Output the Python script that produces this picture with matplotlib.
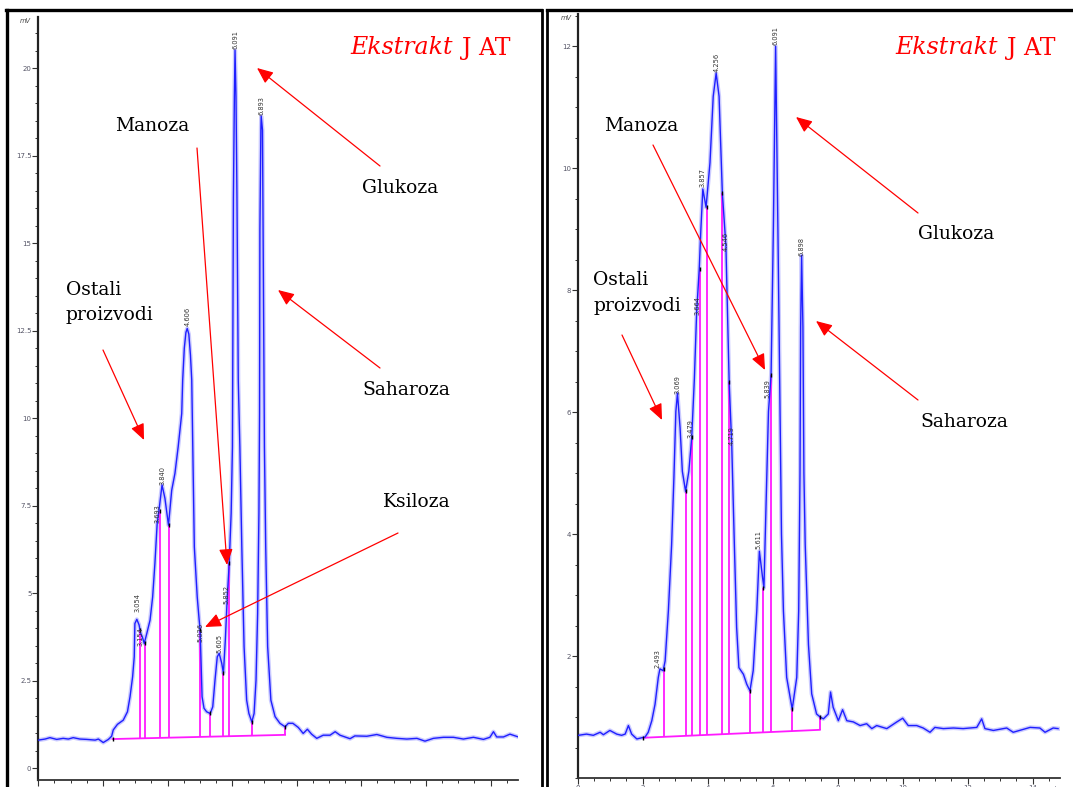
import matplotlib
matplotlib.use('Agg')
import matplotlib.pyplot as plt
import numpy as np
from matplotlib.patches import FancyArrowPatch
from matplotlib.lines import Line2D

W, H = 1073, 787

# ---------------- LEFT chromatogram (time [min], signal [mV]) ----------------
left_t = [0.00, 0.21, 0.36, 0.57, 0.77, 0.93, 1.08, 1.29, 1.50, 1.76, 1.86, 2.01, 2.17, 2.27,
          2.32, 2.45, 2.63, 2.76, 2.84, 2.92, 2.97, 2.99, 3.05, 3.12, 3.17, 3.22, 3.28, 3.36,
          3.46, 3.54, 3.61, 3.68, 3.75, 3.83, 3.92, 4.03, 4.13, 4.23, 4.33, 4.44, 4.47, 4.52,
          4.57, 4.61, 4.66, 4.71, 4.75, 4.83, 4.92, 4.98, 5.01, 5.04, 5.07, 5.13, 5.21, 5.32,
          5.40, 5.47, 5.54, 5.60, 5.68, 5.73, 5.79, 5.85, 5.91, 5.97, 6.01, 6.04, 6.07, 6.09,
          6.12, 6.15, 6.19, 6.24, 6.30, 6.37, 6.45, 6.52, 6.61, 6.68, 6.74, 6.79, 6.83, 6.85,
          6.86, 6.89, 6.90, 6.94, 6.96, 6.99, 7.00, 7.04, 7.10, 7.20, 7.33, 7.48, 7.64, 7.74,
          7.88, 8.05, 8.20, 8.33, 8.46, 8.62, 8.82, 9.03, 9.19, 9.34, 9.65, 9.80, 10.17, 10.48,
          10.79, 11.10, 11.41, 11.72, 11.97, 12.23, 12.54, 12.85, 13.16, 13.47, 13.78, 13.98,
          14.09, 14.19, 14.40, 14.60, 14.86]
left_mv = [0.80, 0.83, 0.87, 0.82, 0.85, 0.83, 0.87, 0.83, 0.82, 0.80, 0.83, 0.73, 0.82, 0.91,
           1.09, 1.25, 1.37, 1.61, 2.04, 2.61, 3.18, 4.13, 4.25, 4.09, 3.85, 3.75, 3.56, 3.85,
           4.23, 4.89, 5.85, 6.99, 7.47, 8.09, 7.71, 6.94, 7.94, 8.42, 9.18, 10.13, 11.09, 12.00,
           12.45, 12.56, 12.40, 11.80, 11.09, 6.32, 4.89, 4.23, 3.94, 2.99, 2.04, 1.71, 1.61, 1.56,
           1.75, 2.51, 3.18, 3.28, 2.99, 2.71, 3.66, 4.89, 5.85, 7.28, 9.18, 16.32, 19.18, 20.51,
           19.18, 16.32, 11.09, 9.18, 6.32, 3.47, 1.94, 1.56, 1.32, 1.56, 2.51, 4.42, 7.28, 10.13,
           15.37, 18.23, 18.63, 18.23, 15.37, 11.56, 9.18, 6.32, 3.47, 1.94, 1.47, 1.28, 1.18, 1.28,
           1.28, 1.16, 0.99, 1.11, 0.97, 0.85, 0.94, 0.94, 1.04, 0.94, 0.84, 0.92, 0.91, 0.96,
           0.88, 0.85, 0.83, 0.85, 0.77, 0.85, 0.88, 0.88, 0.83, 0.88, 0.82, 0.88,
           1.04, 0.89, 0.89, 0.97, 0.89]
left_drop_t = [3.15, 3.30, 3.78, 4.04, 5.01, 5.32, 5.71, 5.91, 6.61, 7.64]
left_drop_top = [3.95, 3.56, 7.35, 6.94, 3.94, 1.56, 2.71, 5.85, 1.32, 1.18]
left_base_t = [2.30, 7.64]
left_base_mv = [0.83, 0.95]
left_labels = ['3.054', '3.154', '3.693', '3.840', '4.606', '5.026', '5.605', '5.852', '6.091', '6.893']
left_label_t = [3.06, 3.18, 3.69, 3.84, 4.61, 5.02, 5.60, 5.82, 6.09, 6.90]
left_label_mv = [4.45, 3.50, 7.00, 8.10, 12.62, 3.60, 3.30, 4.70, 20.55, 18.65]
left_yticks = [0, 2.5, 5, 7.5, 10, 12.5, 15, 17.5, 20]
left_yticklabels = ['0', '2.5', '5', '7.5', '10', '12.5', '15', '17.5', '20']

# ---------------- RIGHT chromatogram ----------------
right_t = [0.02, 0.27, 0.48, 0.69, 0.79, 0.99, 1.20, 1.35, 1.46, 1.56, 1.66, 1.82, 1.97, 2.07,
           2.17, 2.28, 2.38, 2.48, 2.53, 2.63, 2.69, 2.79, 2.89, 2.96, 3.02, 3.07, 3.15, 3.22,
           3.32, 3.42, 3.51, 3.59, 3.66, 3.74, 3.79, 3.85, 3.95, 4.07, 4.17, 4.26, 4.35, 4.45,
           4.56, 4.66, 4.74, 4.82, 4.89, 4.96, 5.10, 5.20, 5.30, 5.40, 5.51, 5.59, 5.69, 5.73,
           5.79, 5.87, 5.95, 6.02, 6.09, 6.16, 6.22, 6.27, 6.33, 6.43, 6.60, 6.74, 6.80, 6.84,
           6.86, 6.89, 6.93, 6.96, 7.00, 7.10, 7.20, 7.35, 7.46, 7.56, 7.71, 7.78, 7.86, 8.02,
           8.15, 8.28, 8.48, 8.69, 8.89, 9.05, 9.20, 9.51, 9.82, 10.00, 10.17, 10.43, 10.63,
           10.84, 10.99, 11.25, 11.56, 11.86, 12.28, 12.43, 12.53, 12.79, 13.20, 13.40, 13.92,
           14.22, 14.38, 14.63, 14.78]
right_mv = [0.70, 0.72, 0.70, 0.75, 0.71, 0.78, 0.72, 0.70, 0.72, 0.86, 0.72, 0.64, 0.66, 0.67,
            0.75, 0.94, 1.21, 1.65, 1.79, 1.76, 1.92, 2.74, 3.83, 4.92, 6.01, 6.31, 5.74, 5.03,
            4.70, 5.03, 5.60, 6.55, 7.64, 8.35, 9.00, 9.66, 9.36, 10.09, 11.18, 11.56, 11.18, 9.60,
            8.73, 6.50, 5.46, 3.83, 2.47, 1.81, 1.70, 1.54, 1.43, 1.76, 2.74, 3.72, 3.28, 3.12,
            4.37, 6.01, 6.61, 9.00, 12.00, 9.00, 6.28, 4.00, 2.74, 1.65, 1.13, 1.65, 2.74, 5.00,
            7.40, 8.57, 7.40, 5.00, 3.83, 2.19, 1.38, 1.05, 1.00, 0.97, 1.05, 1.41, 1.16, 0.94,
            1.12, 0.94, 0.92, 0.86, 0.89, 0.81, 0.86, 0.81, 0.92, 0.98, 0.86, 0.86, 0.82,
            0.75, 0.83, 0.81, 0.82, 0.81, 0.83, 0.97, 0.81, 0.78, 0.82, 0.75, 0.83,
            0.82, 0.75, 0.82, 0.81]
right_drop_t = [2.66, 3.32, 3.53, 3.75, 3.97, 4.45, 4.66, 5.30, 5.71, 5.94, 6.60, 7.45]
right_drop_top = [1.78, 4.70, 5.60, 8.35, 9.36, 9.60, 6.50, 1.43, 3.12, 6.61, 1.13, 1.00]
right_base_t = [2.02, 7.45]
right_base_mv = [0.66, 0.79]
right_labels = ['2.493', '3.069', '3.479', '3.664', '3.857', '4.256', '4.546', '4.719',
                '5.611', '5.839', '6.091', '6.898']
right_label_t = [2.47, 3.07, 3.48, 3.68, 3.84, 4.28, 4.56, 4.75, 5.57, 5.83, 6.09, 6.90]
right_label_mv = [1.80, 6.30, 5.57, 7.60, 9.70, 11.58, 8.65, 5.46, 3.75, 6.23, 12.02, 8.56]
right_yticks = [2, 4, 6, 8, 10, 12]
right_yticklabels = ['2', '4', '6', '8', '10', '12']

xticks = [0, 2, 4, 6, 8, 10, 12, 14]
xticklabels = ['0', '2', '4', '6', '8', '10', '12', '14']

BLUE = '#1f1fff'
HALO = '#a0a0ff'
MAG = '#ff1aff'
TXT = 'DejaVu Serif'

fig = plt.figure(figsize=(W / 100, H / 100), dpi=100)


def fx(x):
    return x / W


def fy(y):
    return 1 - y / H


def make_axes(x0, x1, ytop, ybot, xlim, ylim, yticks, yticklabels, ymajor_minor):
    ax = fig.add_axes([fx(x0), fy(ybot), fx(x1 - x0), (ybot - ytop) / H])
    ax.set_xlim(*xlim)
    ax.set_ylim(*ylim)
    for s in ['top', 'right']:
        ax.spines[s].set_visible(False)
    ax.spines['left'].set_linewidth(1.6)
    ax.spines['left'].set_color('#222222')
    ax.spines['bottom'].set_linewidth(1.3)
    ax.spines['bottom'].set_color('#333333')
    ax.set_yticks(yticks)
    ax.set_yticklabels(yticklabels)
    ax.set_yticks(np.arange(0, ylim[1], ymajor_minor), minor=True)
    ax.set_xticks(xticks)
    ax.set_xticklabels(xticklabels)
    ax.set_xticks(np.arange(0, xlim[1], 0.5), minor=True)
    ax.tick_params(which='major', direction='out', length=4, width=0.8, colors='#333333',
                   labelsize=5, pad=1.0, labelcolor='#555566')
    ax.tick_params(which='minor', direction='out', length=2.5, width=0.7, colors='#333333')
    ax.patch.set_alpha(0)
    return ax


def draw(ax, t, mv, dt, dtop, bt, bmv, labs, lt, lmv, mvlabel_xy):
    ax.plot(t, mv, color=HALO, lw=3.0, alpha=0.55, solid_joinstyle='round', zorder=2)
    ax.plot(t, mv, color=BLUE, lw=1.0, zorder=3)
    bottoms = np.interp(dt, bt, bmv)
    ax.vlines(dt, bottoms, dtop, colors=MAG, lw=1.3, zorder=2.5)
    ax.plot(bt, bmv, color=MAG, lw=1.3, zorder=2.5)
    ax.plot(dt, dtop, ls='none', marker='|', ms=3, mew=1.0, color='black', zorder=4)
    ax.plot([bt[0]], [bmv[0]], ls='none', marker='|', ms=3, mew=1.0, color='black', zorder=4)
    for s, x, y in zip(labs, lt, lmv):
        ax.text(x, y, s, rotation=90, ha='center', va='bottom', fontsize=4.8,
                color='#333333', zorder=5)
    fig.text(fx(mvlabel_xy[0]), fy(mvlabel_xy[1]), 'mV', fontsize=4.8, style='italic',
             color='#444444', ha='center', va='center')


axL = make_axes(38.3, 518, 17, 780, (0, 14.85), (-0.34, 21.46),
                left_yticks, left_yticklabels, 0.5)
draw(axL, left_t, left_mv, left_drop_t, left_drop_top, left_base_t, left_base_mv,
     left_labels, left_label_t, left_label_mv, (25, 21))
fig.text(fx(512), fy(788), 'min', fontsize=4.8, color='#555566', ha='center', va='top')

axR = make_axes(577.7, 1060, 14, 778, (0, 14.84), (0.05, 12.53),
                right_yticks, right_yticklabels, 0.5)
draw(axR, right_t, right_mv, right_drop_t, right_drop_top, right_base_t, right_base_mv,
     right_labels, right_label_t, right_label_mv, (566, 18))
fig.text(fx(1055), fy(786), 'min', fontsize=4.8, color='#555566', ha='center', va='top')

# ---------------- frames ----------------
def fline(x0, y0, x1, y1, lw=2.4):
    fig.add_artist(Line2D([fx(x0), fx(x1)], [fy(y0), fy(y1)], color='black', lw=lw,
                          transform=fig.transFigure))

fline(6, 10, 541, 10)
fline(7, 10, 7, 790)
fline(541.5, 10, 541.5, 790, 2.0)
fline(547, 10, 1075, 10)
fline(547, 10, 547, 790, 2.0)

# ---------------- annotations ----------------
def label(x, y, s, size=13.5, **kw):
    fig.text(fx(x), fy(y), s, fontsize=size, family=TXT, va='center', ha='left', **kw)


def arrow(x0, y0, x1, y1):
    fig.add_artist(FancyArrowPatch((fx(x0), fy(y0)), (fx(x1), fy(y1)),
                                   transform=fig.transFigure,
                                   arrowstyle='-|>,head_length=0.65,head_width=0.28',
                                   mutation_scale=15, color='#ff0000', lw=0.9,
                                   shrinkA=0, shrinkB=0))

# left panel texts
label(350, 48, 'Ekstrakt', size=17, style='italic', color='red')
label(462, 48, 'J AT', size=17, color='red')
label(115, 126, 'Manoza')
label(362, 188, 'Glukoza')
label(66, 290, 'Ostali')
label(66, 315, 'proizvodi')
label(362, 390, 'Saharoza')
label(383, 502, 'Ksiloza')
arrow(380, 166, 257, 68)
arrow(197, 148, 227, 565)
arrow(103, 350, 144, 440)
arrow(380, 368, 278, 290)
arrow(398, 533, 205, 627)

# right panel texts
label(895, 48, 'Ekstrakt', size=17, style='italic', color='red')
label(1007, 48, 'J AT', size=17, color='red')
label(604, 126, 'Manoza')
label(918, 234, 'Glukoza')
label(593, 280, 'Ostali')
label(593, 306, 'proizvodi')
label(920, 422, 'Saharoza')
arrow(653, 145, 765, 370)
arrow(918, 213, 796, 117)
arrow(622, 335, 662, 420)
arrow(918, 400, 816, 321)

fig.savefig('out.png', dpi=100)
